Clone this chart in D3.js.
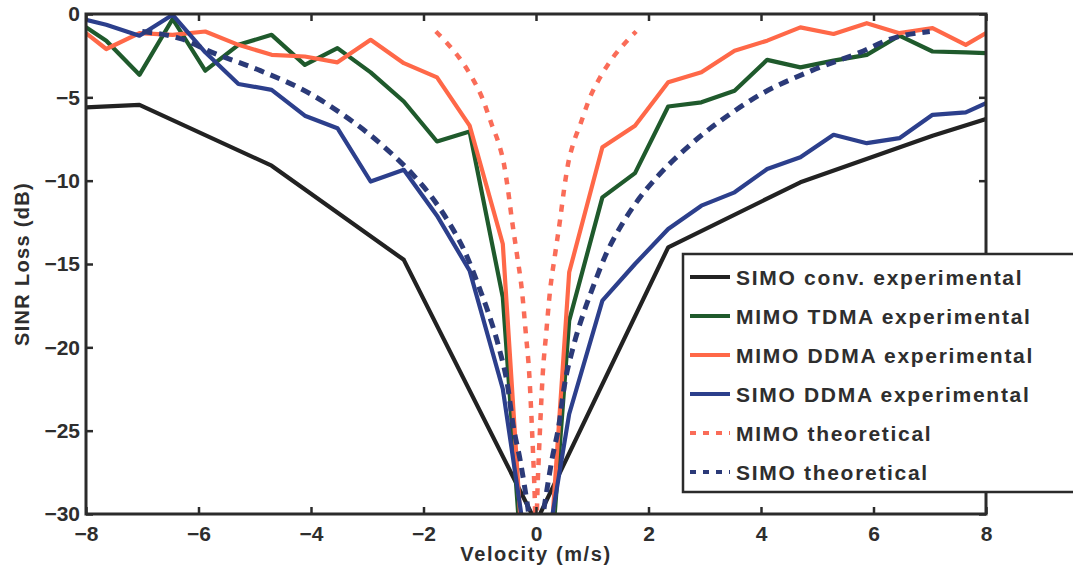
<!DOCTYPE html>
<html>
<head>
<meta charset="utf-8">
<script src="https://cdn.jsdelivr.net/npm/d3@7"></script>
<style>
  body { margin: 0; background: #fff; }
  svg { display: block; }
  text { font-family: "Liberation Sans", Arial, Helvetica, sans-serif; font-weight: bold; fill: #2e2e2e; }
</style>
</head>
<body>
<svg id="chart" width="1073" height="570"></svg>
<script>
// Velocity grid (m/s) shared by the experimental curves
const velocity = [-8, -7.64, -7.05, -6.46, -5.88, -5.29, -4.7, -4.11, -3.53, -2.94, -2.35, -1.76, -1.18, -0.59, 0,
                  0.59, 1.18, 1.76, 2.35, 2.94, 3.53, 4.11, 4.7, 5.29, 5.88, 6.46, 7.05, 7.64, 8];

// SINR loss (dB)
const simoConvVelocity = [-8, -7.05, -4.7, -2.35, 0, 2.35, 4.7, 7.05, 8];
const simoConv = [-5.6, -5.45, -9.1, -14.75, -30.5, -14.0, -10.1, -7.3, -6.3];

const mimoTdma = [-0.8, -1.6, -3.65, -0.3, -3.4, -1.85, -1.25, -3.05, -2.05, -3.5, -5.25, -7.65, -7.05, -17.0, -45,
                  -18.4, -11.0, -9.55, -5.55, -5.3, -4.6, -2.75, -3.2, -2.8, -2.45, -1.3, -2.25, -2.3, -2.35];

const mimoDdma = [-1.15, -2.1, -1.15, -1.25, -1.05, -1.85, -2.45, -2.55, -2.9, -1.55, -2.95, -3.8, -6.7, -13.8, -45,
                  -15.5, -8.0, -6.7, -4.1, -3.5, -2.2, -1.6, -0.8, -1.2, -0.55, -1.15, -0.85, -1.85, -1.15];

const simoDdma = [-0.35, -0.65, -1.3, -0.05, -2.3, -4.2, -4.55, -6.1, -6.85, -10.05, -9.35, -12.1, -15.4, -22.5, -36,
                  -24.0, -17.2, -15.0, -12.9, -11.5, -10.7, -9.3, -8.6, -7.25, -7.75, -7.45, -6.05, -5.9, -5.35];

const mimoTheoryVelocity = [-1.78, -1.58, -1.37, -1.14, -0.96, -0.78, -0.66, -0.57, -0.5, -0.43, -0.34, -0.25, -0.18, -0.12, -0.07, -0.03, 0,
                            0.03, 0.07, 0.12, 0.18, 0.25, 0.34, 0.43, 0.5, 0.57, 0.66, 0.78, 0.96, 1.14, 1.37, 1.58, 1.78];
const mimoTheory = [-1.05, -1.75, -2.6, -3.8, -5.0, -6.7, -7.8, -9.0, -10.5, -12.3, -14.4, -16.6, -19.2, -21.6, -25.0, -28.2, -31,
                    -28.2, -25.0, -21.6, -19.2, -16.6, -14.4, -12.3, -10.5, -9.0, -7.8, -6.7, -5.0, -3.8, -2.6, -1.75, -1.05];

const simoTheoryVelocity = [-7.0, -6.3, -5.76, -4.9, -3.98, -3.45, -2.97, -2.56, -2.2, -1.85, -1.55, -1.26, -1.0, -0.84, -0.66, -0.5, -0.41, -0.28, -0.15, 0,
                            0.15, 0.28, 0.41, 0.5, 0.66, 0.84, 1.0, 1.26, 1.55, 1.85, 2.2, 2.56, 2.97, 3.45, 3.98, 4.9, 5.76, 6.3, 7.0];
const simoTheory = [-1.05, -1.5, -2.3, -3.4, -4.85, -6.0, -7.2, -8.4, -9.6, -11.0, -12.5, -14.3, -16.5, -18.0, -20.0, -22.4, -24.6, -26.8, -29.5, -33,
                    -29.5, -26.8, -24.6, -22.4, -20.0, -18.0, -16.5, -14.3, -12.5, -11.0, -9.6, -8.4, -7.2, -6.0, -4.85, -3.4, -2.3, -1.5, -1.05];

const xTicks = [-8, -6, -4, -2, 0, 2, 4, 6, 8];
const yTicks = [0, -5, -10, -15, -20, -25, -30];
const legendLabels = ["SIMO conv. experimental", "MIMO TDMA experimental", "MIMO DDMA experimental",
                      "SIMO DDMA experimental", "MIMO theoretical", "SIMO theoretical"];

const series = [
  { name: legendLabels[0], x: simoConvVelocity, y: simoConv, color: "#222222", width: 4.2, dash: null },
  { name: legendLabels[1], x: velocity, y: mimoTdma, color: "#1f5a2c", width: 4.2, dash: null },
  { name: legendLabels[2], x: velocity, y: mimoDdma, color: "#ff6848", width: 4.2, dash: null },
  { name: legendLabels[3], x: velocity, y: simoDdma, color: "#2c3f8c", width: 4.2, dash: null },
  { name: legendLabels[4], x: mimoTheoryVelocity, y: mimoTheory, color: "#fa6c58", width: 4.5, dash: "7 8", smooth: true },
  { name: legendLabels[5], x: simoTheoryVelocity, y: simoTheory, color: "#2b3a78", width: 5, dash: "10 7", smooth: true }
];

const margin = { left: 86, top: 14 };
const W = 900, H = 500;
const svg = d3.select("#chart");
const g = svg.append("g").attr("transform", `translate(${margin.left},${margin.top})`);

const x = d3.scaleLinear().domain([-8, 8]).range([0, W]);
const y = d3.scaleLinear().domain([-30, 0]).range([H, 0]);

svg.append("defs").append("clipPath").attr("id", "plotClip")
  .append("rect").attr("x", 0).attr("y", 0).attr("width", W).attr("height", H);

const plot = g.append("g").attr("clip-path", "url(#plotClip)");

series.forEach(s => {
  const pts = s.x.map((v, i) => [v, s.y[i]]);
  const line = d3.line()
    .x(d => x(d[0]))
    .y(d => y(d[1]))
    .curve(s.smooth ? d3.curveMonotoneX : d3.curveLinear);
  plot.append("path")
    .datum(pts)
    .attr("d", line)
    .attr("fill", "none")
    .attr("stroke", s.color)
    .attr("stroke-width", s.width)
    .attr("stroke-linejoin", "round")
    .attr("stroke-dasharray", s.dash);
});

// Axes: ticks point inward on all four sides
const axisColor = "#2b2b2b";
const fmt = d3.format("d");
const axisBottomG = g.append("g").attr("transform", `translate(0,${H})`)
  .call(d3.axisBottom(x).tickValues(xTicks).tickFormat(fmt).tickSizeInner(-7).tickSizeOuter(0).tickPadding(12));
const axisTopG = g.append("g")
  .call(d3.axisTop(x).tickValues(xTicks).tickFormat("").tickSizeInner(-7).tickSizeOuter(0));
const axisLeftG = g.append("g")
  .call(d3.axisLeft(y).tickValues(yTicks).tickFormat(fmt).tickSizeInner(-7).tickSizeOuter(0).tickPadding(6));
const axisRightG = g.append("g").attr("transform", `translate(${W},0)`)
  .call(d3.axisRight(y).tickValues(yTicks).tickFormat("").tickSizeInner(-7).tickSizeOuter(0));

[axisBottomG, axisTopG, axisLeftG, axisRightG].forEach(a => {
  a.select(".domain").remove();
  a.selectAll(".tick line").attr("stroke", axisColor).attr("stroke-width", 2.5);
  a.selectAll(".tick text").attr("font-size", 21).style("fill", "#2e2e2e");
});

g.append("rect").attr("x", 0).attr("y", 0).attr("width", W).attr("height", H)
  .attr("fill", "none").attr("stroke", axisColor).attr("stroke-width", 3);

// Axis titles
svg.append("text")
  .attr("x", margin.left + W / 2).attr("y", 561)
  .attr("text-anchor", "middle").attr("font-size", 20).attr("letter-spacing", 1.6)
  .text("Velocity (m/s)");
svg.append("text")
  .attr("transform", `translate(29,${margin.top + 250}) rotate(-90)`)
  .attr("text-anchor", "middle").attr("font-size", 20).attr("letter-spacing", 1.3)
  .text("SINR Loss (dB)");

// Legend
const legend = svg.append("g").attr("transform", "translate(683,254)");
legend.append("rect").attr("x", 0).attr("y", 0).attr("width", 420).attr("height", 238)
  .attr("fill", "#fff").attr("stroke", axisColor).attr("stroke-width", 2.5);
series.forEach((s, i) => {
  const cy = 23 + i * 39;
  legend.append("line")
    .attr("x1", 7).attr("x2", 47).attr("y1", cy).attr("y2", cy)
    .attr("stroke", s.color).attr("stroke-width", 4)
    .attr("stroke-dasharray", s.dash ? "6 7" : null);
  legend.append("text")
    .attr("x", 53).attr("y", cy + 8)
    .attr("font-size", 21).attr("letter-spacing", 1.7)
    .text(s.name);
});
</script>
</body>
</html>
